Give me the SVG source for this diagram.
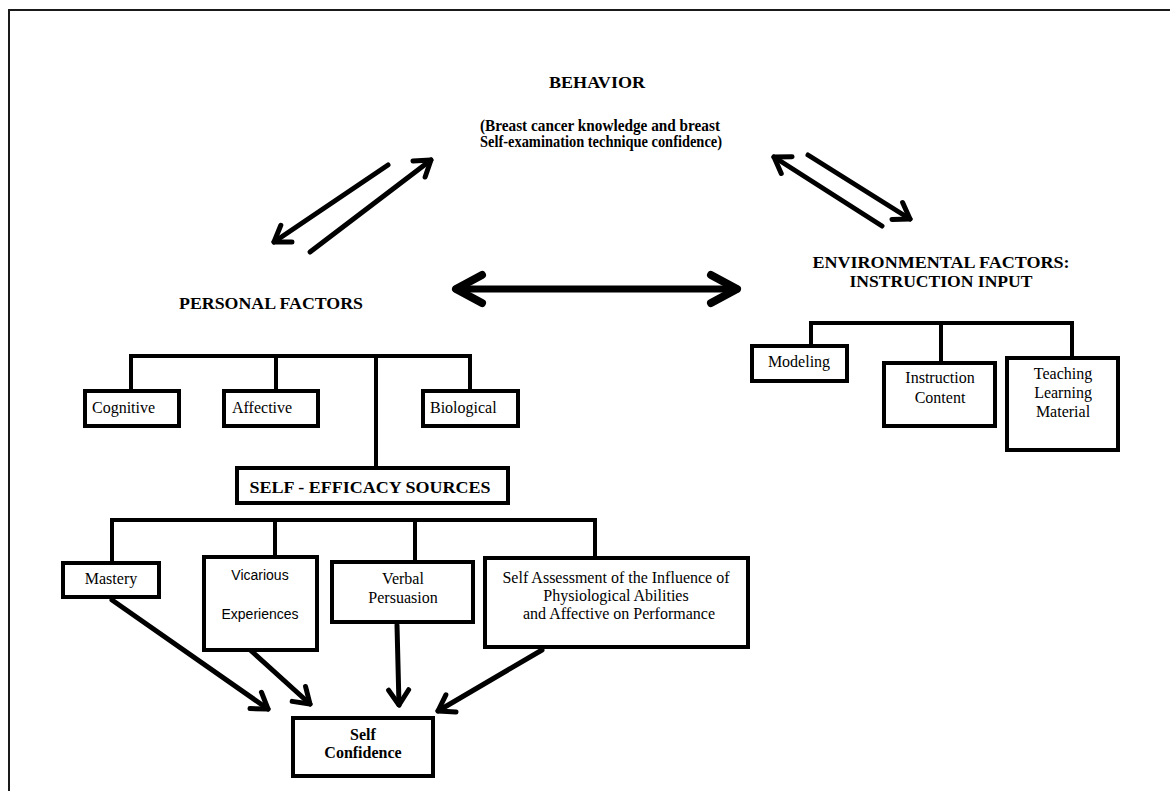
<svg xmlns="http://www.w3.org/2000/svg" width="1170" height="791" viewBox="0 0 1170 791">
<defs>
<style>
.ln{stroke:#000;stroke-width:4;fill:none;stroke-linecap:square}
.box{fill:#fff;stroke:#000;stroke-width:4}
.t{font-family:"Liberation Serif","Times New Roman",serif;font-size:16px;fill:#000}
.b{font-weight:bold}
.c{text-anchor:middle}
.s{font-family:"Liberation Sans",Arial,sans-serif;font-size:14px;fill:#000}
.arr{stroke:#000;stroke-width:5;fill:none;stroke-linecap:round}
.big{stroke:#000;stroke-width:7;fill:none;stroke-linecap:round}
</style>
<marker id="h" markerUnits="userSpaceOnUse" markerWidth="60" markerHeight="60" viewBox="-30 -30 60 60" refX="0" refY="0" orient="auto-start-reverse" overflow="visible">
<path d="M-15,-10 L0,0 L-15,10" fill="none" stroke="#000" stroke-width="5" stroke-linecap="round" stroke-linejoin="round"/>
</marker>
<marker id="hb" markerUnits="userSpaceOnUse" markerWidth="80" markerHeight="80" viewBox="-40 -40 80 80" refX="0" refY="0" orient="auto-start-reverse" overflow="visible">
<path d="M-26,-14 L0,0 L-26,14" fill="none" stroke="#000" stroke-width="8" stroke-linecap="round" stroke-linejoin="round"/>
</marker>
</defs>
<rect width="1170" height="791" fill="#fff"/>
<path d="M9,800 V10 H1180" fill="none" stroke="#1a1a1a" stroke-width="2"/>

<g id="connectors">
<line class="arr" x1="388" y1="165" x2="274" y2="242" marker-end="url(#h)"/>
<line class="arr" x1="310" y1="252" x2="431" y2="160" marker-end="url(#h)"/>
<line class="arr" x1="882" y1="226" x2="774" y2="157" marker-end="url(#h)"/>
<line class="arr" x1="808" y1="155" x2="910" y2="219" marker-end="url(#h)"/>
<line class="big" x1="456" y1="289" x2="737" y2="289" marker-start="url(#hb)" marker-end="url(#hb)"/>
<path class="ln" d="M131,391 V356 H470 V391 M276,356 V391 M376,356 V468"/>
<path class="ln" d="M811,346 V323 H1072 V358 M941,323 V362"/>
<path class="ln" d="M112,563 V520 H595 V556 M275,520 V557 M415,520 V562"/>
<line class="arr" x1="112" y1="600" x2="268" y2="709" marker-end="url(#h)"/>
<line class="arr" x1="248" y1="648" x2="310" y2="704" marker-end="url(#h)"/>
<line class="arr" x1="397" y1="625" x2="399" y2="705" marker-end="url(#h)"/>
<line class="arr" x1="542" y1="650" x2="438" y2="711" marker-end="url(#h)"/>
</g>

<g id="behavior">
<text class="t b c" x="597" y="88" font-size="16.5" textLength="96" lengthAdjust="spacingAndGlyphs">BEHAVIOR</text>
<text class="t b c" x="600" y="131" font-size="16" textLength="240" lengthAdjust="spacingAndGlyphs">(Breast cancer knowledge and breast</text>
<text class="t b c" x="601" y="147" font-size="16" textLength="242" lengthAdjust="spacingAndGlyphs">Self-examination technique confidence)</text>
</g>

<g id="personal-factors">
<text class="t b c" x="271" y="309" font-size="17.5" textLength="184" lengthAdjust="spacingAndGlyphs">PERSONAL FACTORS</text>
</g>

<g id="environmental-factors">
<text class="t b c" x="941" y="268" font-size="17.5" textLength="257" lengthAdjust="spacingAndGlyphs">ENVIRONMENTAL FACTORS:</text>
<text class="t b c" x="941" y="287" font-size="17.5" textLength="183" lengthAdjust="spacingAndGlyphs">INSTRUCTION INPUT</text>
</g>

<g id="cognitive">
<rect class="box" x="85" y="391" width="94" height="35"/>
<text class="t" x="92" y="413">Cognitive</text>
</g>
<g id="affective">
<rect class="box" x="224" y="391" width="94" height="35"/>
<text class="t" x="232" y="413">Affective</text>
</g>
<g id="biological">
<rect class="box" x="423" y="391" width="95" height="35"/>
<text class="t" x="430" y="413">Biological</text>
</g>

<g id="self-efficacy-sources">
<rect class="box" x="237" y="468" width="271" height="35"/>
<text class="t b c" x="370" y="493" font-size="17.5" textLength="241" lengthAdjust="spacingAndGlyphs">SELF - EFFICACY SOURCES</text>
</g>

<g id="modeling">
<rect class="box" x="752" y="346" width="95" height="35"/>
<text class="t c" x="799" y="367">Modeling</text>
</g>
<g id="instruction-content">
<rect class="box" x="884" y="363" width="111" height="63"/>
<text class="t c" x="940" y="383">Instruction</text>
<text class="t c" x="940" y="403">Content</text>
</g>
<g id="teaching-learning-material">
<rect class="box" x="1007" y="358" width="111" height="92"/>
<text class="t c" x="1063" y="379">Teaching</text>
<text class="t c" x="1063" y="398">Learning</text>
<text class="t c" x="1063" y="417">Material</text>
</g>

<g id="mastery">
<rect class="box" x="63" y="563" width="96" height="34"/>
<text class="t c" x="111" y="584">Mastery</text>
</g>
<g id="vicarious-experiences">
<rect class="box" x="204" y="557" width="113" height="93"/>
<text class="s c" x="260" y="580">Vicarious</text>
<text class="s c" x="260" y="619">Experiences</text>
</g>
<g id="verbal-persuasion">
<rect class="box" x="332" y="562" width="141" height="60"/>
<text class="t c" x="403" y="584">Verbal</text>
<text class="t c" x="403" y="603">Persuasion</text>
</g>
<g id="self-assessment">
<rect class="box" x="485" y="558" width="263" height="89"/>
<text class="t c" x="616" y="583">Self Assessment of the Influence of</text>
<text class="t c" x="616" y="601">Physiological Abilities</text>
<text class="t c" x="619" y="619">and Affective on Performance</text>
</g>

<g id="self-confidence">
<rect class="box" x="293" y="718" width="140" height="58"/>
<text class="t b c" x="363" y="740">Self</text>
<text class="t b c" x="363" y="758">Confidence</text>
</g>
</svg>
